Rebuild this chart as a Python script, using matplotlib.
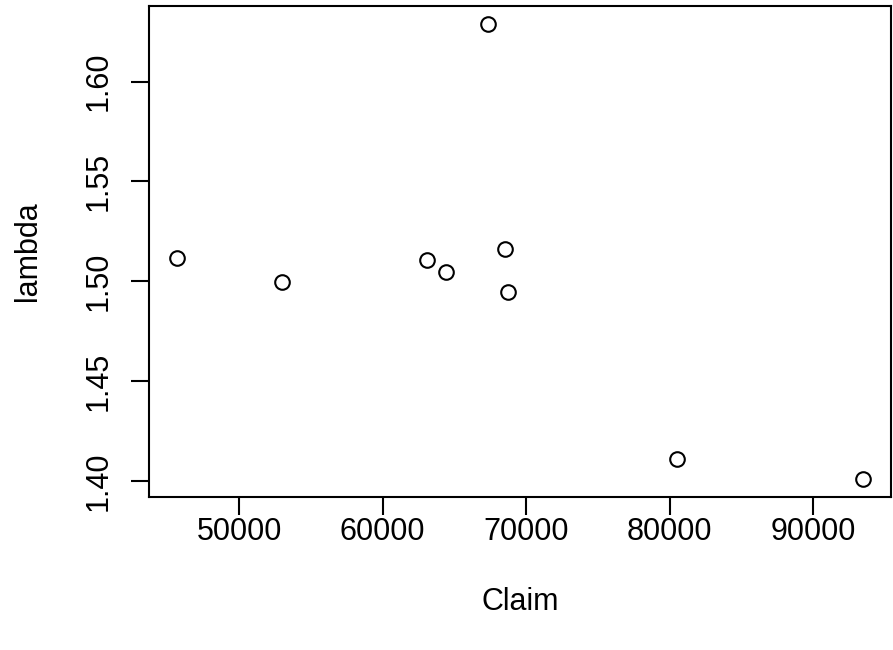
import matplotlib
matplotlib.use('Agg')
import matplotlib.pyplot as plt

# values
claim = [45660, 53020, 63080, 64430, 68540, 68700, 67350, 80540, 93480]
lam = [1.5117, 1.4995, 1.5105, 1.5047, 1.5162, 1.4945, 1.6289, 1.4112, 1.4012]
xticks = [50000, 60000, 70000, 80000, 90000]
yticks = [1.40, 1.45, 1.50, 1.55, 1.60]

plt.rcParams['font.family'] = ['Liberation Sans', 'DejaVu Sans']

W, H = 893, 650
fig = plt.figure(figsize=(W / 100, H / 100), dpi=100)
left, right, top, bottom = 149.3, 890.7, 5.7, 496.7
ax = fig.add_axes([left / W, 1 - bottom / H, (right - left) / W, (bottom - top) / H])

ax.plot(claim, lam, 'o', mfc='none', mec='black', ms=10.5, mew=1.5)

# R style 4% padding around the data
xr = max(claim) - min(claim)
yr = max(lam) - min(lam)
ax.set_xlim(min(claim) - 0.04 * xr, max(claim) + 0.04 * xr)
ax.set_ylim(min(lam) - 0.04 * yr, max(lam) + 0.04 * yr)

ax.set_xticks(xticks)
ax.set_xticklabels([str(v) for v in xticks])
ax.set_yticks(yticks)
ax.set_yticklabels(['%.2f' % v for v in yticks], rotation=90, va='center')

for s in ax.spines.values():
    s.set_linewidth(1.5)
ax.tick_params(direction='out', length=13, width=1.5, labelsize=22)
ax.tick_params(axis='x', pad=1.5)
ax.tick_params(axis='y', pad=13)

fig.text((left + right) / 2 / W, 1 - 602 / H, 'Claim', ha='center', va='center', fontsize=22)
fig.text(28 / W, 1 - (top + bottom) / 2 / H, 'lambda', ha='center', va='center',
         rotation=90, fontsize=22)

fig.savefig('out.png', dpi=100)
